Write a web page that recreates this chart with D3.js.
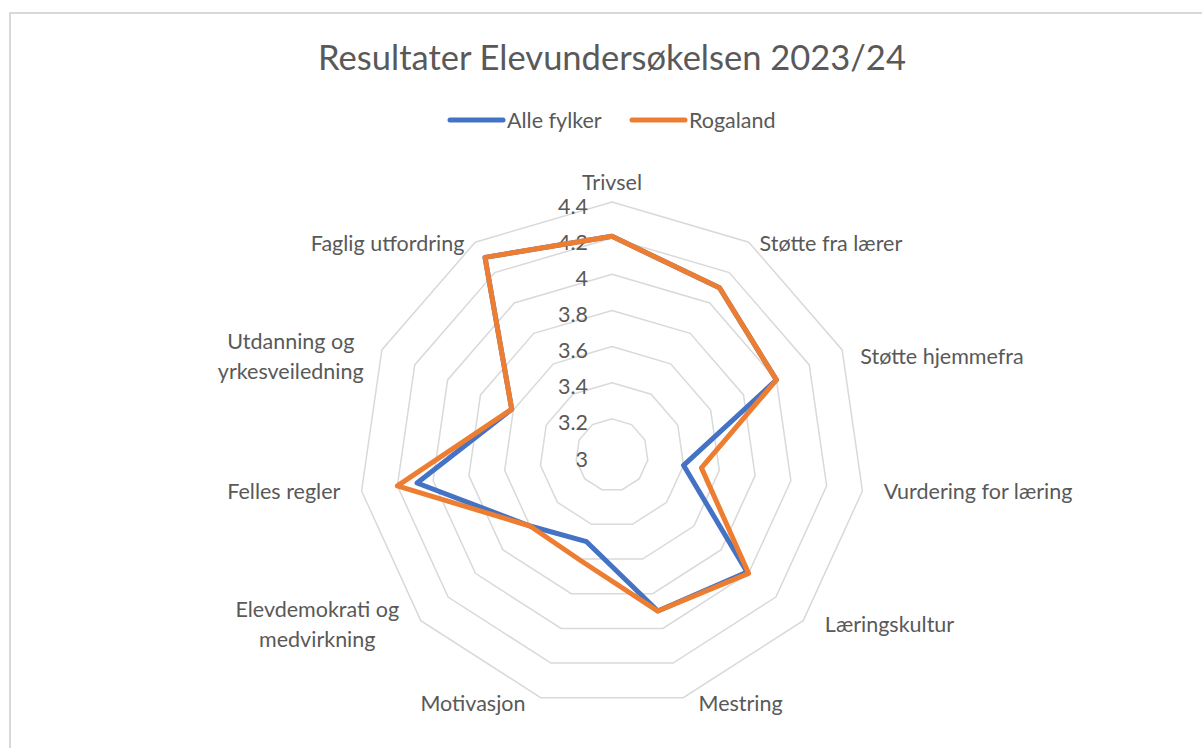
<!DOCTYPE html>
<html>
<head>
<meta charset="utf-8">
<script src="https://cdn.jsdelivr.net/npm/d3@7"></script>
<style>
  body { margin: 0; background: #fff; }
  text { font-family: Lato, "Open Sans", sans-serif; fill: #595959; }
</style>
</head>
<body>
<div class="workspace"></div>
<script>
const categories = [
  'Trivsel',
  'Støtte fra lærer',
  'Støtte hjemmefra',
  'Vurdering for læring',
  'Læringskultur',
  'Mestring',
  'Motivasjon',
  'Elevdemokrati og|medvirkning',
  'Felles regler',
  'Utdanning og|yrkesveiledning',
  'Faglig utfordring',
];
const alleFylker = [4.21, 4.1, 4.0, 3.4, 3.99, 3.9, 3.5, 3.6, 4.09, 3.61, 4.3];
const rogaland = [4.21, 4.1, 4.0, 3.5, 4.0, 3.9, 3.61, 3.6, 4.2, 3.61, 4.3];
const seriesNames = ['Alle fylker', 'Rogaland'];
const seriesColors = ['#4472C4', '#ED7D31'];
const tickValues = [3, 3.2, 3.4, 3.6, 3.8, 4, 4.2, 4.4];

const width = 1202;
const height = 748;
const cx = 612;
const cy = 455;
const radius = 253;
const labelSize = '21.5px';

const svg = d3
  .select('.workspace')
  .append('svg')
  .attr('width', width)
  .attr('height', height);

// chart area border
svg
  .append('rect')
  .attr('x', 10)
  .attr('y', 13)
  .attr('width', 1220)
  .attr('height', 760)
  .attr('fill', 'none')
  .attr('stroke', '#d9d9d9')
  .attr('stroke-width', 2);

svg
  .append('text')
  .attr('x', cx)
  .attr('y', 70)
  .attr('text-anchor', 'middle')
  .style('font-size', '34.5px')
  .text('Resultater Elevundersøkelsen 2023/24');

// legend
const legendItems = [
  { x: 450, name: seriesNames[0], color: seriesColors[0] },
  { x: 632, name: seriesNames[1], color: seriesColors[1] },
];
const legend = svg
  .selectAll('.legend')
  .data(legendItems)
  .enter()
  .append('g')
  .attr('transform', (d) => `translate(${d.x},120)`);
legend
  .append('line')
  .attr('x1', 0)
  .attr('x2', 53)
  .attr('stroke', (d) => d.color)
  .attr('stroke-width', 5)
  .attr('stroke-linecap', 'round');
legend
  .append('text')
  .attr('x', 57)
  .attr('dy', '0.35em')
  .style('font-size', labelSize)
  .text((d) => d.name);

const rScale = d3.scaleLinear().domain([3, 4.4]).range([0, radius]);
const angle = d3
  .scaleLinear()
  .domain([0, categories.length])
  .range([0, 2 * Math.PI]);

const radial = d3
  .lineRadial()
  .angle((d, i) => angle(i))
  .radius((d) => rScale(d))
  .curve(d3.curveLinearClosed);

const g = svg.append('g').attr('transform', `translate(${cx},${cy})`);

// grid rings
g.selectAll('.ring')
  .data(tickValues.slice(1))
  .enter()
  .append('path')
  .attr('d', (t) => radial(categories.map(() => t)))
  .attr('fill', 'none')
  .attr('stroke', '#d9d9d9')
  .attr('stroke-width', 1.5);

// tick labels
g.selectAll('.tick')
  .data(tickValues)
  .enter()
  .append('text')
  .attr('x', -24)
  .attr('y', (t) => -rScale(t) + 4)
  .attr('dy', '0.35em')
  .attr('text-anchor', 'end')
  .style('font-size', labelSize)
  .text((t) => t);

// series
[alleFylker, rogaland].forEach(function (values, k) {
  g.append('path')
    .attr('d', radial(values))
    .attr('fill', 'none')
    .attr('stroke', seriesColors[k])
    .attr('stroke-width', 5)
    .attr('stroke-linejoin', 'round');
});

// category labels
categories.forEach(function (c, i) {
  const a = angle(i);
  const s = Math.sin(a);
  const co = Math.cos(a);
  const r = radius + 20;
  let x = s * r;
  let y = -co * r;
  if (co > 0) {
    y += 40 * co * Math.abs(s);
  } else {
    y -= 14 * Math.abs(co);
    x += 10 * Math.sign(s) * Math.abs(co);
  }
  const lines = c.split('|');
  const anchor = s > 0.1 ? 'start' : s < -0.1 ? 'end' : 'middle';
  const t = g
    .append('text')
    .style('font-size', labelSize)
    .attr('text-anchor', lines.length > 1 ? 'middle' : anchor);
  let blockShift = 0;
  if (lines.length > 1) {
    // centre the lines inside a block aligned to the anchor
    const probe = svg.append('text').style('font-size', labelSize);
    let maxW = 0;
    lines.forEach(function (l) {
      probe.text(l);
      maxW = Math.max(maxW, probe.node().getComputedTextLength());
    });
    probe.remove();
    blockShift = anchor === 'end' ? -maxW / 2 : anchor === 'start' ? maxW / 2 : 0;
  }
  lines.forEach(function (l, j) {
    t.append('tspan')
      .attr('x', x + blockShift)
      .attr('y', y + (j - (lines.length - 1) / 2) * 30)
      .attr('dy', '0.35em')
      .text(l);
  });
});
</script>
</body>
</html>
